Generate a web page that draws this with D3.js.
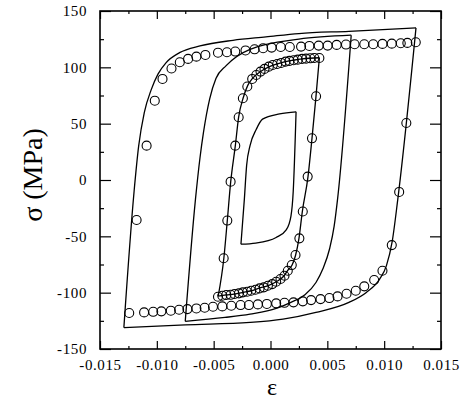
<!DOCTYPE html>
<html>
<head>
<meta charset="utf-8">
<script src="https://cdn.jsdelivr.net/npm/d3@7"></script>
<style>
  body { margin: 0; background: #fff; }
  svg { display: block; }
</style>
</head>
<body>
<div id="graphic"></div>
<script>
// Tick values
var xTicks = [-0.015, -0.010, -0.005, 0.000, 0.005, 0.010, 0.015];
var yTicks = [-150, -100, -50, 0, 50, 100, 150];

// Model curves (solid lines), [strain, stress MPa]
var outerUp = [[-0.0129,-131],[-0.0120,-10],[-0.0116,30],[-0.0111,60],[-0.0105,80],[-0.0099,94],
  [-0.0092,104],[-0.0080,113],[-0.0062,119],[-0.0033,124],[-0.0004,127],[0.0025,130],[0.0069,132],[0.0128,135]];
var outerDown = [[-0.0129,-131],[-0.0075,-128.5],[-0.0018,-126.4],[0.0011,-123.5],[0.0040,-117.5],
  [0.0069,-108.6],[0.0084,-100],[0.0096,-88],[0.0102,-76],[0.0107,-55],[0.0112,-17],[0.0128,135]];
var midUp = [[-0.0075,-125.5],[-0.0066,-17],[-0.0062,20],[-0.0059,42],[-0.00535,72],[-0.0048,90],
  [-0.0039,101.5],[-0.0018,116],[0.0025,125],[0.0071,128.5]];
var midDown = [[-0.0075,-125.5],[-0.0040,-122],[-0.0018,-119],[0.0005,-114],[0.0017,-109],[0.0030,-102],
  [0.0040,-91],[0.0046,-79],[0.0052,-61],[0.0056,-41],[0.0059,-17],[0.0071,128.5]];
var innerUp = [[-0.0046,-103],[-0.0041,-69],[-0.0038,-36],[-0.0035,-1.5],[-0.0031,30],[-0.0028,56],
  [-0.0024,73],[-0.0020,84],[-0.0016,90],[-0.0009,96],[-0.0001,100.6],[0.0006,103],[0.0013,105],
  [0.0020,106.3],[0.0028,107.5],[0.0043,108.5]];
var innerDown = [[-0.0046,-103],[-0.0039,-102],[-0.0032,-101.2],[-0.0024,-99.7],[-0.0017,-98.3],
  [-0.0010,-96],[-0.0002,-93.8],[0.0005,-90.3],[0.0012,-85],[0.0015,-80.5],[0.0019,-75.5],[0.0022,-67],
  [0.0025,-52],[0.0028,-28],[0.0033,3],[0.00365,37],[0.0040,74],[0.0043,108.5]];
var smallUp = [[-0.0026,-57],[-0.0023,-17],[-0.0021,13],[-0.0018,30.5],[-0.00125,45],[-0.0007,54],
  [0.0008,58.6],[0.00225,60.5]];
var smallDown = [[-0.0026,-57],[-0.0013,-56],[0.0005,-51],[0.0014,-44],[0.0018,-32],[0.0020,-10],[0.00225,60.5]];

// Experimental points (open circles), [strain, stress MPa]
var expOuterUp = [[-0.01243,-118],[-0.01178,-35.5],[-0.0109,30.5],[-0.01018,70.4],[-0.0095,89.7],
  [-0.00871,99],[-0.00798,104.5],[-0.00725,107.5],[-0.00652,109.5],[-0.00573,111],[-0.00462,113],
  [-0.00383,113.4],[-0.0031,114],[-0.0022,115],[-0.0014,116],[-0.00065,117],[0.0001,117.5],[0.0009,118],
  [0.0017,118],[0.00269,118.4],[0.00342,119],[0.00424,119.3],[0.00503,119.3],[0.00582,119.9],
  [0.00664,120.2],[0.0074,120.5],[0.00825,120.5],[0.00904,120.5],[0.00985,120.8],[0.01067,121],
  [0.01146,121.4],[0.01204,121.7],[0.01278,122.3]];
var expOuterDown = [[0.01195,50.6],[0.01132,-10.6],[0.01067,-57.8],[0.00985,-80.5],[0.00912,-88.8],
  [0.00825,-94.4],[0.0075,-98.3],[0.00669,-101],[0.0059,-103.3],[0.00518,-104.8],[0.0044,-105.7],
  [0.00357,-106.6],[0.00284,-107.7],[0.00202,-108.6],[0.00123,-109],[0.0005,-109.5],[-0.00032,-110],
  [-0.00111,-110.4],[-0.0019,-111],[-0.00263,-111],[-0.00345,-111.6],[-0.00424,-112.2],[-0.00506,-112.5],
  [-0.00579,-113.4],[-0.00652,-114],[-0.00731,-114.6],[-0.00804,-115.2],[-0.00877,-116],[-0.0096,-116.6],
  [-0.01032,-117],[-0.01112,-117.5]];
var expInnerUp = [[-0.00412,-69.5],[-0.0038,-36],[-0.00351,-1.5],[-0.0031,30.5],[-0.0028,55.7],
  [-0.00243,72.6],[-0.00204,83],[-0.00161,89.7],[-0.00125,93.2],[-0.00088,96.2],[-0.00053,98.6],
  [-0.00015,100.6],[0.0002,102.1],[0.00059,103],[0.00094,103.9],[0.00132,105.1],[0.00167,105.7],
  [0.00204,106.3],[0.0024,106.8],[0.00278,107.5],[0.00313,107.7],[0.00351,108],[0.00386,108.3],[0.0043,108.3]];
var expInnerDown = [[0.00401,74.3],[0.00365,37],[0.00327,3],[0.00284,-28],[0.00254,-51.8],[0.0022,-66.6],
  [0.00187,-75.5],[0.00152,-80.5],[0.00123,-85],[0.00088,-87.9],[0.0005,-90.3],[0.00015,-92.4],
  [-0.00023,-93.9],[-0.00059,-95.3],[-0.00096,-96.2],[-0.00132,-97.4],[-0.0017,-98.3],[-0.00205,-99.2],
  [-0.00243,-99.7],[-0.00278,-100.6],[-0.00316,-101.2],[-0.00351,-101.9],[-0.00389,-102.1],
  [-0.00424,-102.7],[-0.00462,-103.6]];

var svgWidth = 466;
var svgHeight = 404;

var svg = d3.select("#graphic")
  .append("svg")
  .attr("width", svgWidth)
  .attr("height", svgHeight);

var x = d3.scaleLinear().domain([-0.015, 0.015]).range([100, 441]);
var y = d3.scaleLinear().domain([-150, 150]).range([349, 11]);

var font = "'Liberation Serif', 'Times New Roman', serif";

// minor tick values
var xMinor = d3.range(-0.0125, 0.015, 0.005);
var yMinor = d3.range(-125, 150, 50);

function styleAxis(g) {
  g.selectAll(".domain").remove();
  g.selectAll("line").attr("stroke", "#000").attr("stroke-width", 1.2);
  g.selectAll("text")
    .attr("fill", "#000")
    .style("font-family", font)
    .style("font-size", "15px")
    .style("letter-spacing", "0.6px");
}

// bottom
svg.append("g").attr("transform", "translate(0,349)")
  .call(d3.axisBottom(x).tickValues(xTicks).tickSizeInner(-8).tickSizeOuter(0).tickPadding(10)
    .tickFormat(function(d) { return d.toFixed(3); }))
  .call(styleAxis);
svg.append("g").attr("transform", "translate(0,349)")
  .call(d3.axisBottom(x).tickValues(xMinor).tickSizeInner(-3).tickSizeOuter(0).tickFormat(""))
  .call(styleAxis);
// top
svg.append("g").attr("transform", "translate(0,11)")
  .call(d3.axisTop(x).tickValues(xTicks).tickSizeInner(-8).tickSizeOuter(0).tickFormat(""))
  .call(styleAxis);
svg.append("g").attr("transform", "translate(0,11)")
  .call(d3.axisTop(x).tickValues(xMinor).tickSizeInner(-3).tickSizeOuter(0).tickFormat(""))
  .call(styleAxis);
// left
svg.append("g").attr("transform", "translate(100,0)")
  .call(d3.axisLeft(y).tickValues(yTicks).tickSizeInner(-11).tickSizeOuter(0).tickPadding(13)
    .tickFormat(function(d) { return String(d); }))
  .call(styleAxis);
svg.append("g").attr("transform", "translate(100,0)")
  .call(d3.axisLeft(y).tickValues(yMinor).tickSizeInner(-4).tickSizeOuter(0).tickFormat(""))
  .call(styleAxis);
// right
svg.append("g").attr("transform", "translate(441,0)")
  .call(d3.axisRight(y).tickValues(yTicks).tickSizeInner(-11).tickSizeOuter(0).tickFormat(""))
  .call(styleAxis);
svg.append("g").attr("transform", "translate(441,0)")
  .call(d3.axisRight(y).tickValues(yMinor).tickSizeInner(-4).tickSizeOuter(0).tickFormat(""))
  .call(styleAxis);

// frame
svg.append("rect")
  .attr("x", x(-0.015)).attr("y", y(150))
  .attr("width", x(0.015) - x(-0.015)).attr("height", y(-150) - y(150))
  .attr("fill", "none").attr("stroke", "#000").attr("stroke-width", 1.6);

// solid model curves
var line = d3.line()
  .x(function(d) { return x(d[0]); })
  .y(function(d) { return y(d[1]); })
  .curve(d3.curveMonotoneX);

var curves = [outerUp, outerDown, midUp, midDown, innerUp, innerDown, smallUp, smallDown];
svg.append("g").selectAll("path")
  .data(curves)
  .enter()
  .append("path")
  .attr("d", line)
  .attr("fill", "none")
  .attr("stroke", "#000")
  .attr("stroke-width", 1.3);

// experimental circles
var pts = [].concat(expOuterUp, expOuterDown, expInnerUp, expInnerDown);
svg.append("g").selectAll("circle")
  .data(pts)
  .enter()
  .append("circle")
  .attr("cx", function(d) { return x(d[0]); })
  .attr("cy", function(d) { return y(d[1]); })
  .attr("r", 4.5)
  .attr("fill", "none")
  .attr("stroke", "#000")
  .attr("stroke-width", 1.1);

// axis titles
svg.append("text")
  .attr("transform", "translate(42,175) rotate(-90)")
  .attr("text-anchor", "middle")
  .style("font-family", font)
  .style("font-size", "28px")
  .text("σ (MPa)");

svg.append("text")
  .attr("x", 272).attr("y", 395)
  .attr("text-anchor", "middle")
  .style("font-family", font)
  .style("font-size", "24px")
  .text("ε");
</script>
</body>
</html>
